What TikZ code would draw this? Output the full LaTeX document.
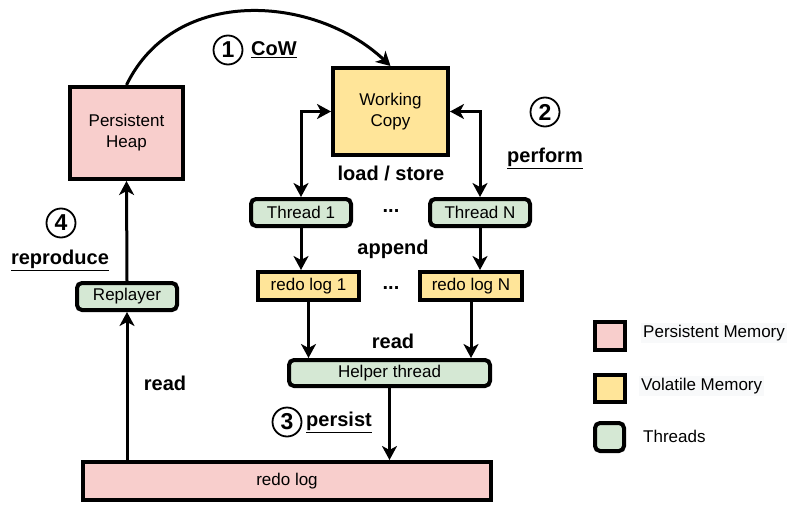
\documentclass[tikz,border=0pt]{standalone}
\usepackage{fontspec}
\setmainfont{Liberation Sans}
\usetikzlibrary{arrows.meta}

\definecolor{pmem}{HTML}{F8CECC}
\definecolor{vmem}{HTML}{FFE599}
\definecolor{thr}{HTML}{D5E8D4}
\definecolor{lgbg}{HTML}{F8F9FA}

\tikzset{
  box/.style={draw=black, line width=4pt, inner sep=0pt,
    font=\fontsize{17}{21}\selectfont, align=center},
  pbox/.style={box, fill=pmem},
  vbox/.style={box, fill=vmem},
  tbox/.style={box, fill=thr, rounded corners=5pt},
  arr/.style={line width=3pt, -{Stealth[length=14pt,width=15pt,inset=4pt]}},
  barr/.style={line width=3pt, {Stealth[length=14pt,width=15pt,inset=4pt]}-{Stealth[length=14pt,width=15pt,inset=4pt]}},
  lbl/.style={font=\fontsize{20}{24}\selectfont\bfseries, inner sep=0pt},
  num/.style={draw=black, line width=1.8pt, circle, minimum size=29pt, inner sep=0pt,
    font=\fontsize{23}{26}\selectfont\bfseries},
  legtxt/.style={anchor=west, fill=lgbg, inner sep=2pt, font=\fontsize{17}{21}\selectfont}
}

\newcommand{\ul}[1]{\setlength{\fboxrule}{0pt}\underline{#1}}

\begin{document}
\begin{tikzpicture}[x=1pt, y=-1pt]
\useasboundingbox (0,0) rectangle (791,505);

% main blocks
\node[pbox, minimum width=113pt, minimum height=92pt] (heap) at (126.5,133) {Persistent\\Heap};
\node[vbox, minimum width=115pt, minimum height=87pt] (wc) at (390.5,111.5) {Working\\Copy};
\node[tbox, minimum width=100pt, minimum height=27pt] (thr1) at (301,212.5) {Thread 1};
\node[tbox, minimum width=100pt, minimum height=27pt] (thrN) at (480,212.5) {Thread N};
\node[vbox, minimum width=101pt, minimum height=28pt] (rl1) at (308.5,286) {redo log 1};
\node[vbox, minimum width=102pt, minimum height=28pt] (rlN) at (471,286) {redo log N};
\node[tbox, minimum width=201pt, minimum height=26pt] (helper) at (389.5,373) {Helper thread};
\node[pbox, minimum width=408pt, minimum height=38pt] (redo) at (287,481) {redo log};
\node[tbox, minimum width=100pt, minimum height=27pt] (rep) at (127,296.5) {Replayer};

% connectors
\draw[arr] (heap.north) .. controls (175,-15) and (315,-5) .. (wc.north);
\draw[barr] (thr1.north) |- (wc.west);
\draw[barr] (wc.east) -| (thrN.north);
\draw[arr] (thr1.south) -- (thr1.south |- rl1.north);
\draw[arr] (thrN.south) -- (thrN.south |- rlN.north);
\draw[arr] (rl1.south) -- (rl1.south |- helper.north);
\draw[arr] (rlN.south) -- (rlN.south |- helper.north);
\draw[arr] (helper.south) -- (helper.south |- redo.north);
\draw[arr] (redo.north -| rep.south) -- (rep.south);
\draw[arr] (rep.north) -- (heap.south);

% labels
\node[num] (n1) at (228,50) {1};
\node[lbl, anchor=west] (cow) at (251,50) {\underline{CoW}};
\node[lbl] (ls) at (391,173) {load / store};
\node[lbl] (dots1) at (391,211) {...};
\node[lbl] (app) at (393,249) {append};
\node[lbl] (dots2) at (391,288) {...};
\node[num] (n2) at (545,112) {2};
\node[lbl] (perf) at (545,158) {\underline{perform}};
\node[lbl] (rd1) at (393,341) {read};
\node[num] (n3) at (287,422) {3};
\node[lbl, anchor=west] (pers) at (306,422) {\underline{persist}};
\node[lbl] (rd2) at (165,383) {read};
\node[num] (n4) at (61,223) {4};
\node[lbl] (repro) at (60,260) {\underline{reproduce}};

% legend
\node[pbox, minimum width=30pt, minimum height=28pt] (lp) at (610,336) {};
\node[vbox, minimum width=30pt, minimum height=27pt] (lv) at (610,388.5) {};
\node[tbox, minimum width=29pt, minimum height=28pt] (lt) at (609.5,437) {};
\node[legtxt] (lpt) at (641,333) {Persistent Memory};
\node[legtxt] (lvt) at (639,386) {Volatile Memory};
\node[anchor=west, inner sep=2pt, font=\fontsize{17}{21}\selectfont] (ltt) at (641,436) {Threads};
\end{tikzpicture}
\end{document}
